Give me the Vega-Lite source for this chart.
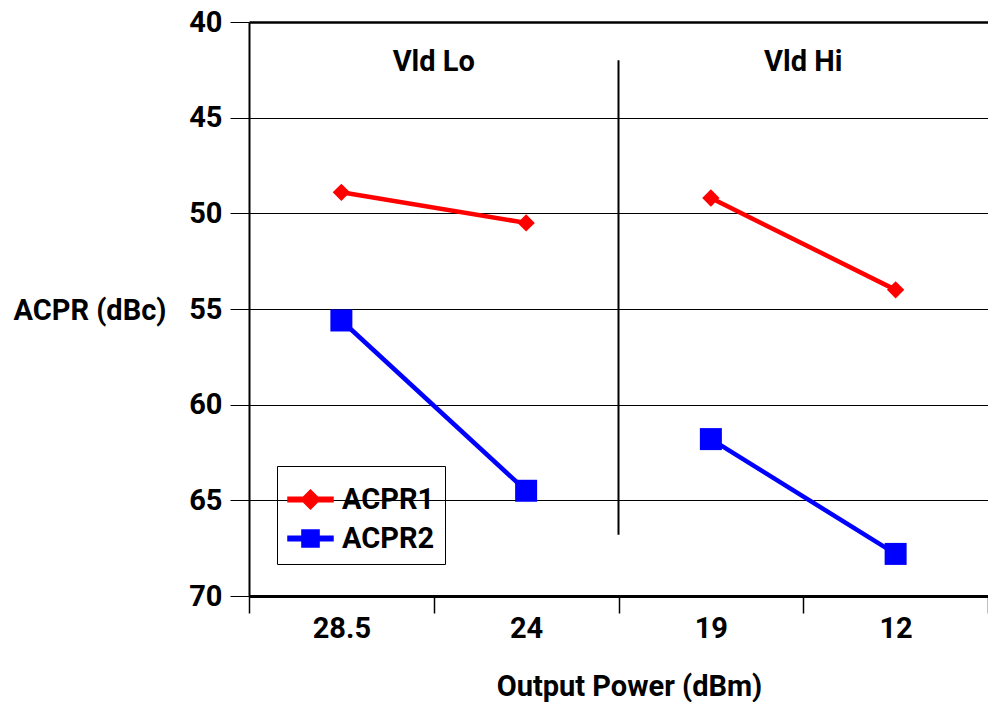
{
  "$schema": "https://vega.github.io/schema/vega-lite/v6.json",
  "width": 739,
  "height": 574,
  "autosize": "none",
  "padding": {"left": 249, "top": 22, "right": 0, "bottom": 106},
  "background": "white",
  "config": {
    "view": {"stroke": null},
    "font": "Roboto",
    "text": {"font": "Roboto"}
  },
  "datasets": {
    "series": [
      {"power": "28.5", "region": "Lo", "series": "ACPR1", "value": 48.9},
      {"power": "24", "region": "Lo", "series": "ACPR1", "value": 50.5},
      {"power": "19", "region": "Hi", "series": "ACPR1", "value": 49.2},
      {"power": "12", "region": "Hi", "series": "ACPR1", "value": 54.0},
      {"power": "28.5", "region": "Lo", "series": "ACPR2", "value": 55.6},
      {"power": "24", "region": "Lo", "series": "ACPR2", "value": 64.5},
      {"power": "19", "region": "Hi", "series": "ACPR2", "value": 61.8},
      {"power": "12", "region": "Hi", "series": "ACPR2", "value": 67.8}
    ],
    "labels": [
      {"power": "24", "label": "Vld Lo", "value": 42.1},
      {"power": "12", "label": "Vld Hi", "value": 42.1}
    ],
    "divider": [
      {"power": "19", "value": 42.0, "value2": 66.8}
    ]
  },
  "layer": [
    {
      "data": {"name": "series"},
      "mark": {"type": "line", "strokeWidth": 4.5},
      "encoding": {
        "x": {
          "field": "power", "type": "ordinal", "bandPosition": 0.5,
          "scale": {"type": "band", "domain": ["28.5", "24", "19", "12"], "paddingInner": 0, "paddingOuter": 0},
          "axis": {
            "title": "Output Power (dBm)",
            "labelAngle": 0,
            "domainColor": "black", "domainWidth": 3,
            "tickColor": "black", "tickWidth": 1.5, "tickSize": 17, "tickBand": "extent",
            "labelFontSize": 29, "labelFontWeight": "bold", "labelColor": "black", "labelPadding": 1,
            "titleFontSize": 29, "titleFontWeight": "bold", "titleColor": "black",
            "titleX": 380, "titleY": 90, "titleBaseline": "middle",
            "grid": false
          }
        },
        "y": {
          "field": "value", "type": "quantitative",
          "scale": {"domain": [40, 70], "reverse": true, "nice": false, "zero": false},
          "axis": {
            "title": "ACPR (dBc)",
            "values": [40, 45, 50, 55, 60, 65, 70],
            "domainColor": "black", "domainWidth": 2,
            "tickColor": "black", "tickWidth": 1, "tickSize": 19,
            "grid": true, "gridColor": "black",
            "gridWidth": {"condition": {"test": "datum.value == 40", "value": 2.5}, "value": 1},
            "gridOpacity": 1,
            "labelFontSize": 29, "labelFontWeight": "bold", "labelColor": "black", "labelPadding": 8,
            "titleFontSize": 29, "titleFontWeight": "bold", "titleColor": "black",
            "titleAngle": 0, "titleAlign": "left", "titleBaseline": "middle",
            "titleX": -236, "titleY": 288
          }
        },
        "color": {
          "field": "series", "type": "nominal",
          "scale": {"domain": ["ACPR1", "ACPR2"], "range": ["#ff0000", "#0000ff"]}
        },
        "detail": {"field": "region"}
      }
    },
    {
      "data": {"name": "series"},
      "transform": [{"filter": "datum.series === 'ACPR1'"}],
      "mark": {"type": "point", "filled": true, "opacity": 1, "shape": "diamond", "size": 300},
      "encoding": {
        "x": {"field": "power", "type": "ordinal", "bandPosition": 0.5},
        "y": {"field": "value", "type": "quantitative"},
        "color": {"field": "series", "type": "nominal"}
      }
    },
    {
      "data": {"name": "series"},
      "transform": [{"filter": "datum.series === 'ACPR2'"}],
      "mark": {"type": "point", "filled": true, "opacity": 1, "shape": "square", "size": 484},
      "encoding": {
        "x": {"field": "power", "type": "ordinal", "bandPosition": 0.5},
        "y": {"field": "value", "type": "quantitative"},
        "color": {"field": "series", "type": "nominal"}
      }
    },
    {
      "data": {"name": "series"},
      "transform": [{"filter": "datum.value < 0"}],
      "mark": {"type": "point", "filled": true, "opacity": 1, "size": 2025},
      "encoding": {
        "x": {"field": "power", "type": "ordinal", "bandPosition": 0.5},
        "y": {"field": "value", "type": "quantitative"},
        "color": {
          "field": "series", "type": "nominal",
          "legend": {
            "title": null,
            "orient": "none",
            "legendX": 28,
            "legendY": 444,
            "padding": 10,
            "strokeColor": "black",
            "symbolSize": 2025,
            "labelFontSize": 29,
            "labelFontWeight": "bold",
            "labelColor": "black",
            "labelOffset": 8,
            "rowPadding": 0,
            "encode": {
              "legend": {"update": {"strokeWidth": {"value": 2}}}
            }
          }
        },
        "shape": {
          "field": "series", "type": "nominal",
          "scale": {"domain": ["ACPR1", "ACPR2"], "range": [
            "M-1,-0.1H1V0.1H-1Z M0,-0.42L0.42,0L0,0.42L-0.42,0Z",
            "M-1,-0.1H1V0.1H-1Z M-0.38,-0.38H0.38V0.38H-0.38Z"
          ]}
        }
      }
    },
    {
      "data": {"name": "divider"},
      "mark": {"type": "rule", "color": "black", "strokeWidth": 2},
      "encoding": {
        "x": {"field": "power", "type": "ordinal", "bandPosition": 0},
        "y": {"field": "value", "type": "quantitative"},
        "y2": {"field": "value2"}
      }
    },
    {
      "data": {"name": "labels"},
      "mark": {"type": "text", "fontSize": 29, "fontWeight": "bold", "color": "black", "baseline": "middle", "align": "center"},
      "encoding": {
        "x": {"field": "power", "type": "ordinal", "bandPosition": 0},
        "y": {"field": "value", "type": "quantitative"},
        "text": {"field": "label"}
      }
    }
  ]
}
